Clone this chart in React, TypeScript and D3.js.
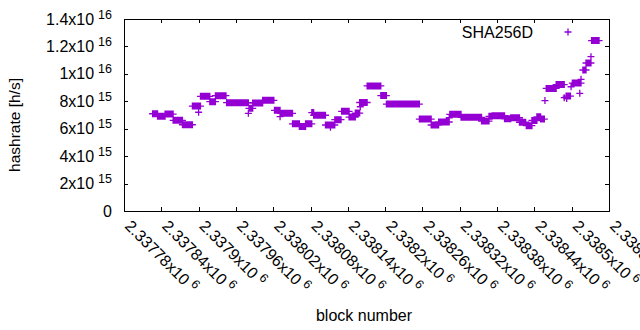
import React, { useEffect, useRef } from 'react';
import * as d3 from 'd3';

// stretches where the estimate stays flat: [first block, last block, hashrate (1e15 h/s)]
const flatRuns: [number, number, number][] = [
  [2337826, 2337834, 7.09],
  [2337834, 2337846, 6.91],
  [2337846, 2337859, 7.07],
  [2337859, 2337874, 6.61],
  [2337874, 2337890, 6.29],
  [2337890, 2337903, 7.65],
  [2337903, 2337918, 8.36],
  [2337918, 2337927, 7.97],
  [2337927, 2337944, 8.41],
  [2337945, 2337980, 7.9],
  [2337981, 2337987, 7.49],
  [2337987, 2338003, 7.87],
  [2338003, 2338021, 8.07],
  [2338022, 2338031, 7.34],
  [2338032, 2338051, 7.12],
  [2338051, 2338062, 6.36],
  [2338062, 2338072, 6.17],
  [2338072, 2338082, 6.36],
  [2338082, 2338085, 7.18],
  [2338085, 2338104, 6.98],
  [2338104, 2338119, 6.27],
  [2338119, 2338129, 6.66],
  [2338130, 2338142, 7.27],
  [2338142, 2338152, 6.85],
  [2338152, 2338159, 7.14],
  [2338159, 2338171, 7.91],
  [2338171, 2338193, 9.12],
  [2338193, 2338202, 8.42],
  [2338202, 2338255, 7.8],
  [2338255, 2338274, 6.7],
  [2338274, 2338286, 6.27],
  [2338286, 2338303, 6.49],
  [2338304, 2338322, 7.05],
  [2338322, 2338355, 6.83],
  [2338355, 2338367, 6.56],
  [2338367, 2338372, 6.9],
  [2338372, 2338392, 6.95],
  [2338392, 2338402, 6.72],
  [2338402, 2338416, 6.8],
  [2338416, 2338426, 6.47],
  [2338427, 2338436, 6.22],
  [2338436, 2338444, 6.6],
  [2338444, 2338450, 6.87],
  [2338450, 2338456, 6.7],
  [2338459, 2338475, 8.94],
  [2338475, 2338488, 9.22],
  [2338491, 2338498, 8.38],
  [2338501, 2338515, 9.33],
  [2338518, 2338523, 10.28],
  [2338523, 2338531, 10.79],
  [2338532, 2338544, 12.43],
];

// single blocks off the flat stretches: [block, hashrate (1e15 h/s)]
const strayPoints: [number, number][] = [
  [2337900, 7.2],
  [2337980, 7.12],
  [2338031, 6.88],
  [2338112, 6.1],
  [2338160, 7.6],
  [2338303, 6.8],
  [2338457, 8.05],
  [2338488, 8.26],
  [2338492, 8.2],
  [2338499, 9.06],
  [2338513, 8.58],
  [2338515, 9.6],
  [2338531, 11.25],
];

const seriesName = 'SHA256D';
const xTicks = d3.range(2337780, 2338561, 60);
const yTicks = [0, 2e15, 4e15, 6e15, 8e15, 1e16, 1.2e16, 1.4e16];

const FONT = '"Liberation Sans", Arial, sans-serif';
const COLOR = '#9400d3';

export default function App() {
  const ref = useRef<SVGSVGElement>(null);

  useEffect(() => {
    const svg = d3.select(ref.current);
    svg.selectAll('*').remove();

    const left = 124, right = 609, top = 19, bottom = 211;
    const x = d3.scaleLinear().domain([2337780, 2338560]).range([left, right]);
    const y = d3.scaleLinear().domain([0, 1.4e16]).range([bottom, top]);

    svg.append('rect').attr('width', 640).attr('height', 330).attr('fill', '#fff');

    // every block gets a "+" mark
    const points: [number, number][] = [];
    flatRuns.forEach(([a, b, v]) => {
      for (let blk = a; blk <= b; blk++) points.push([blk, v * 1e15]);
    });
    strayPoints.forEach(([blk, v]) => points.push([blk, v * 1e15]));

    const r = 3.5;
    const p = d3.path();
    points.forEach(([bx, by]) => {
      const px = x(bx), py = y(by);
      p.moveTo(px - r, py); p.lineTo(px + r, py);
      p.moveTo(px, py - r); p.lineTo(px, py + r);
    });
    svg.append('path')
      .attr('d', p.toString())
      .attr('stroke', COLOR)
      .attr('stroke-width', 1.3)
      .attr('fill', 'none');

    // frame + mirrored ticks
    const axes = svg.append('g').attr('stroke', '#000').attr('shape-rendering', 'crispEdges');
    axes.append('rect')
      .attr('x', left + 0.5).attr('y', top + 0.5)
      .attr('width', right - left).attr('height', bottom - top)
      .attr('fill', 'none');
    xTicks.forEach(t => {
      const tx = Math.round(x(t)) + 0.5;
      axes.append('line').attr('x1', tx).attr('x2', tx).attr('y1', bottom).attr('y2', bottom - 4);
      axes.append('line').attr('x1', tx).attr('x2', tx).attr('y1', top).attr('y2', top + 4);
    });
    yTicks.forEach(t => {
      const ty = Math.round(y(t)) + 0.5;
      axes.append('line').attr('x1', left).attr('x2', left + 4).attr('y1', ty).attr('y2', ty);
      axes.append('line').attr('x1', right).attr('x2', right - 4).attr('y1', ty).attr('y2', ty);
    });

    const txt = svg.append('g').attr('font-family', FONT).attr('fill', '#000');

    // y tick labels, "m x10^e"
    yTicks.forEach(t => {
      const label = txt.append('text')
        .attr('x', 112).attr('y', y(t) + 5.5)
        .attr('text-anchor', 'end')
        .attr('font-size', 16);
      if (t === 0) { label.text('0'); return; }
      const e = Math.floor(Math.log10(t) + 1e-9);
      const m = d3.format('.2~g')(t / Math.pow(10, e));
      label.append('tspan').text(`${m}x10`);
      label.append('tspan').attr('dx', 4).attr('dy', -6).attr('font-size', 12.5).text(String(e));
    });

    // x tick labels, rotated
    const fmt = d3.format('.6~g');
    xTicks.forEach(t => {
      const label = txt.append('text')
        .attr('transform', `translate(${x(t)},${bottom + 16}) rotate(45)`)
        .attr('font-size', 16);
      label.append('tspan').text(`${fmt(t / 1e6)}x10`);
      label.append('tspan').attr('dx', 4).attr('dy', -6).attr('font-size', 12.5).text('6');
    });

    txt.append('text')
      .attr('x', 364).attr('y', 321)
      .attr('text-anchor', 'middle')
      .attr('font-size', 16)
      .text('block number');

    txt.append('text')
      .attr('transform', `translate(20,125) rotate(-90)`)
      .attr('text-anchor', 'middle')
      .attr('font-size', 15.5)
      .text('hashrate [h/s]');

    // key
    txt.append('text')
      .attr('x', 533).attr('y', 37.5)
      .attr('text-anchor', 'end')
      .attr('font-size', 16)
      .text(seriesName);
    const kx = 568, ky = 32;
    svg.append('path')
      .attr('d', `M${kx - r},${ky}H${kx + r}M${kx},${ky - r}V${ky + r}`)
      .attr('stroke', COLOR).attr('stroke-width', 1.3);
  }, []);

  return (
    <svg
      ref={ref}
      width={640}
      height={330}
      style={{ position: 'absolute', left: 0, top: 0 }}
    />
  );
}
